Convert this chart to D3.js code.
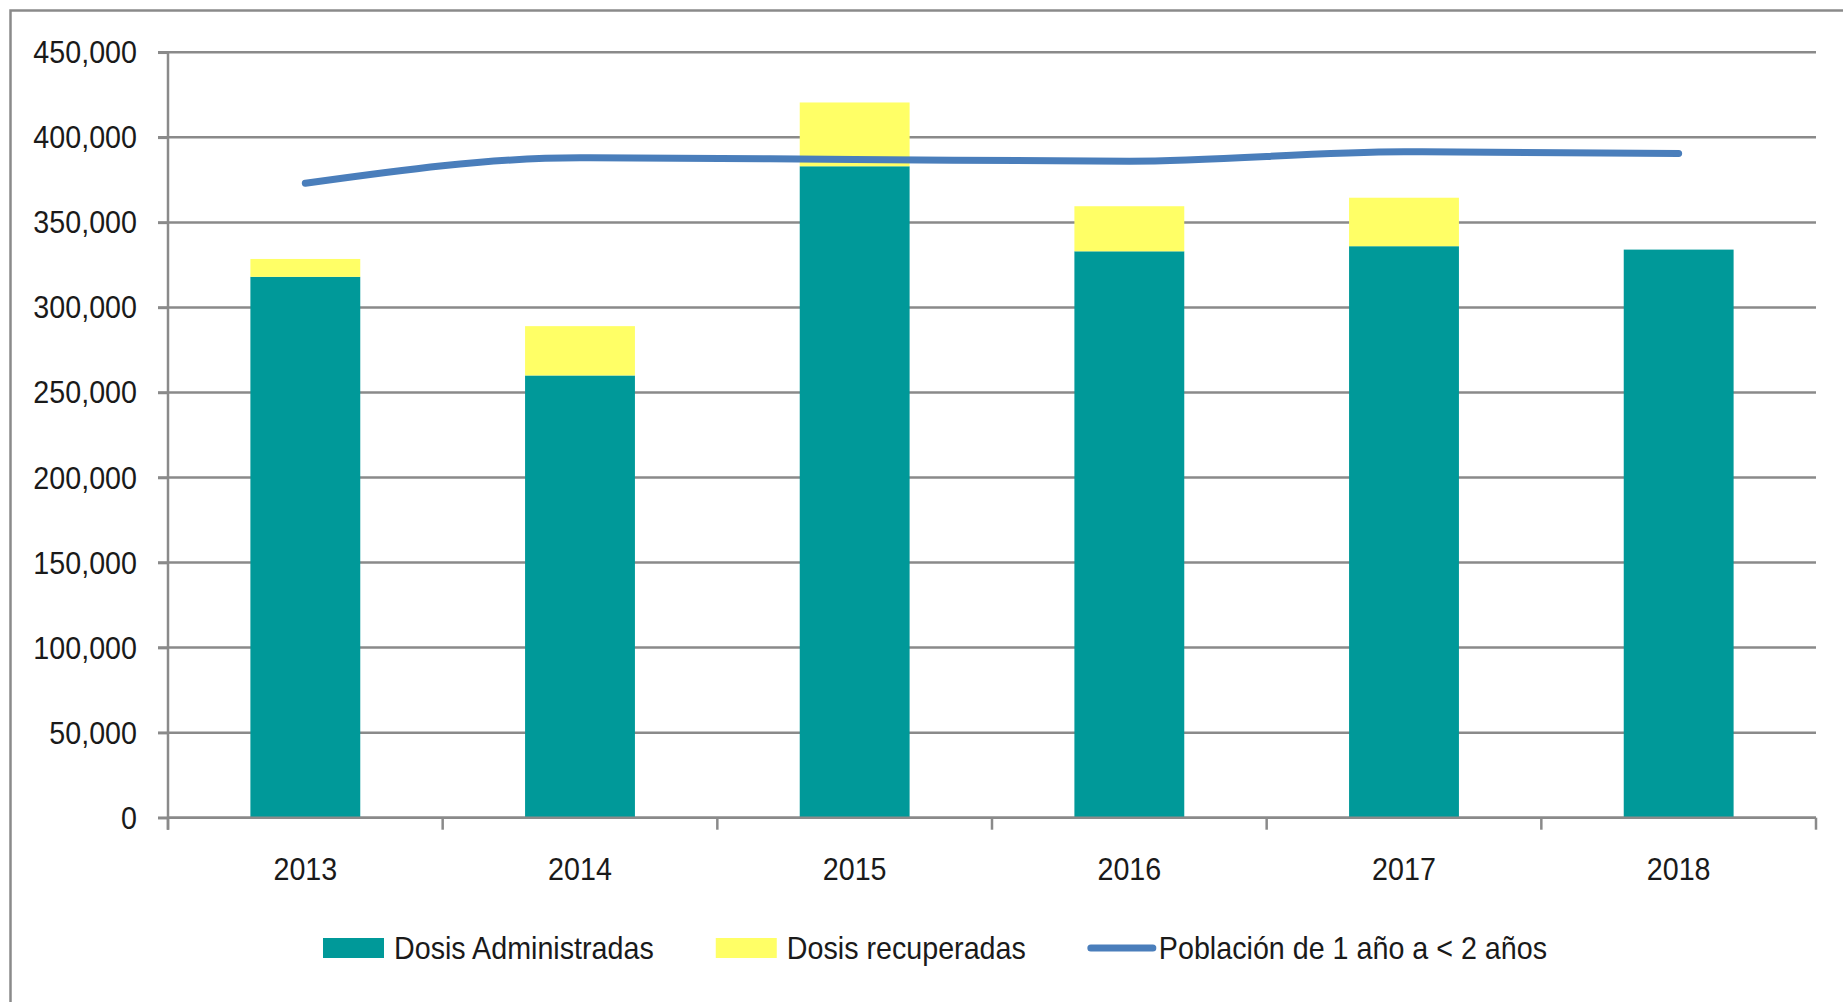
<!DOCTYPE html>
<html><head><meta charset="utf-8">
<script src="https://d3js.org/d3.v7.min.js"></script>
<style>body{margin:0;background:#fff}svg{display:block}text{font-family:"Liberation Sans",Arial,sans-serif;fill:#1a1a1a}</style>
</head><body><svg id="c" width="1843" height="1002"></svg>
<script>
const years = ["2013","2014","2015","2016","2017","2018"];
const administradas = [318000, 260000, 383000, 333000, 336000, 334000];
const recuperadas = [10500, 29000, 37500, 26500, 28500, 0];
const poblacion = [373000, 388000, 387000, 386000, 391500, 390500];
const yTicks = [0,50000,100000,150000,200000,250000,300000,350000,400000,450000];
const seriesNames = ["Dosis Administradas","Dosis recuperadas","Población de 1 año a < 2 años"];
const colors = ["#009999","#ffff66","#4a7ebb"];

const svg = d3.select("#c");
const L = 168, R = 1816, T = 52.3, B = 817.7;
const x = d3.scaleBand().domain(years).range([L, R]).paddingInner(0.6).paddingOuter(0.3);
const xb = d3.scaleBand().domain(years).range([L, R]);
const y = d3.scaleLinear().domain([0, 450000]).range([B, T]);
const gray = "#8a8a8a";
const FS = 31, SX = 0.925;

function label(parent, tx, ty, str, anchor) {
  return parent.append("text")
    .attr("transform", `translate(${tx},${ty}) scale(${SX},1)`)
    .attr("text-anchor", anchor || "start")
    .style("font-size", FS + "px").text(str);
}

// outer border
svg.append("rect").attr("x",10.5).attr("y",10.5).attr("width",1900).attr("height",1100)
  .attr("fill","none").attr("stroke",gray).attr("stroke-width",2.5);

// gridlines
svg.append("g").selectAll("line").data(yTicks).join("line")
  .attr("x1", L-10).attr("x2", R).attr("y1", d=>y(d)).attr("y2", d=>y(d))
  .attr("stroke", gray).attr("stroke-width", 2.5);

// y axis
const ya = svg.append("g").attr("transform",`translate(${L},0)`)
  .call(d3.axisLeft(y).tickValues(yTicks).tickFormat(d3.format(",")).tickSize(10));
ya.select(".domain").remove();
ya.selectAll(".tick line").attr("stroke", gray).attr("stroke-width",2.5);
ya.selectAll(".tick text").remove();
const fmt = d3.format(",");
const yl = svg.append("g");
yTicks.forEach(v => label(yl, 137, y(v) + 11, fmt(v), "end"));
svg.append("line").attr("x1",L).attr("x2",L).attr("y1",T).attr("y2",B+12).attr("stroke",gray).attr("stroke-width",2.5);

// bars
const stack = years.map((yr,i)=>({yr, a: administradas[i], r: recuperadas[i]}));
svg.append("g").selectAll("rect").data(stack).join("rect")
  .attr("x", d=>x(d.yr)).attr("width", x.bandwidth())
  .attr("y", d=>y(d.a)).attr("height", d=>y(0)-y(d.a)).attr("fill", colors[0]);
svg.append("g").selectAll("rect").data(stack.filter(d=>d.r>0)).join("rect")
  .attr("x", d=>x(d.yr)).attr("width", x.bandwidth())
  .attr("y", d=>y(d.a+d.r)).attr("height", d=>y(d.a)-y(d.a+d.r)).attr("fill", colors[1]);

// x axis
svg.append("line").attr("x1",L).attr("x2",R).attr("y1",B).attr("y2",B).attr("stroke",gray).attr("stroke-width",2.5);
const bounds = years.map(d=>xb(d)).concat([R]);
svg.append("g").selectAll("line").data(bounds).join("line")
  .attr("x1",d=>d).attr("x2",d=>d).attr("y1",B).attr("y2",B+12).attr("stroke",gray).attr("stroke-width",2.5);
const xl = svg.append("g");
years.forEach(d => label(xl, xb(d)+xb.bandwidth()/2, 880, d, "middle"));

// line
const line = d3.line().x((d,i)=>xb(years[i])+xb.bandwidth()/2).y(d=>y(d)).curve(d3.curveMonotoneX);
svg.append("path").datum(poblacion).attr("d", line).attr("fill","none")
  .attr("stroke", colors[2]).attr("stroke-width",7).attr("stroke-linecap","round").attr("stroke-linejoin","round");

// legend
const ly = 948;
let lx = 323;
seriesNames.forEach((name,i)=>{
  const g = svg.append("g");
  let tx;
  if (i < 2) {
    g.append("rect").attr("x",lx).attr("y",ly-10).attr("width",61).attr("height",20).attr("fill",colors[i]);
    tx = lx + 71;
  } else {
    g.append("line").attr("x1",lx+3).attr("x2",lx+65).attr("y1",ly).attr("y2",ly)
      .attr("stroke",colors[i]).attr("stroke-width",7).attr("stroke-linecap","round");
    tx = lx + 71;
  }
  const t = label(g, tx, ly+11, name, "start");
  lx = tx + t.node().getComputedTextLength()*SX + 62;
});
</script></body></html>
